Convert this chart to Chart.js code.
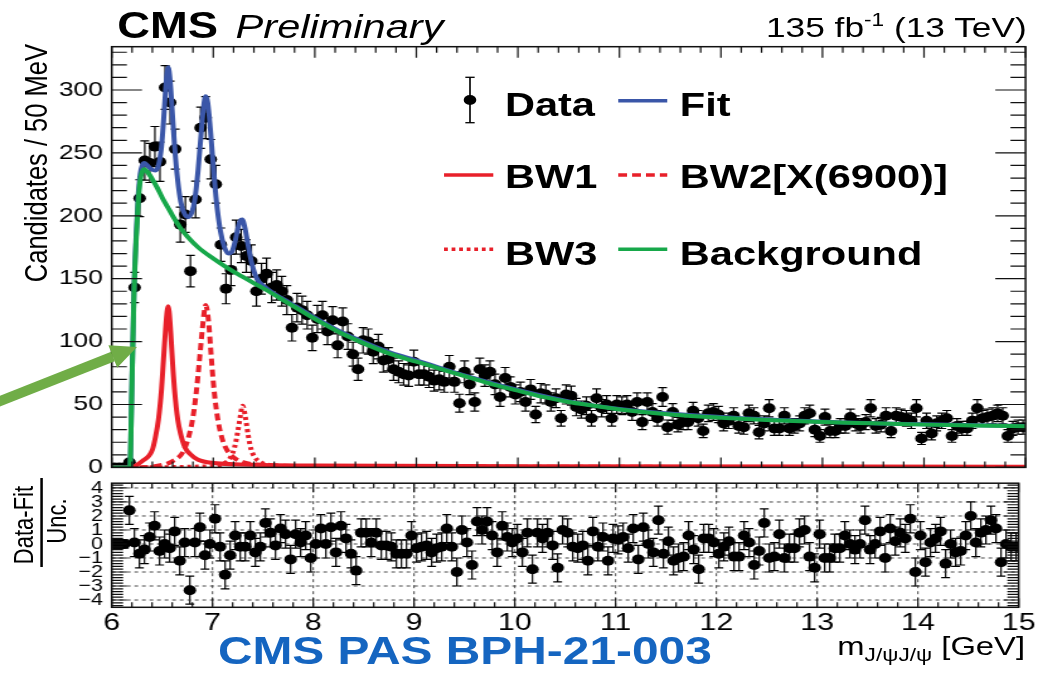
<!DOCTYPE html>
<html>
<head>
<meta charset="utf-8">
<script src="https://cdn.jsdelivr.net/npm/chart.js@4.4.1/dist/chart.umd.min.js"></script>
<style>
body { margin:0; background:#fff; width:1038px; height:673px; overflow:hidden; font-family:"Liberation Sans", Arial, sans-serif; }
#wrap { position:absolute; left:0; top:0; width:824px; height:673px; transform:scaleX(1.25971); transform-origin:0 0; }
#wrap canvas { position:absolute; left:0; }
.t { position:absolute; line-height:1; white-space:nowrap; color:#000; }
.leg { font-weight:bold; font-size:33px; }
</style>
</head>
<body>
<div id="wrap">
  <canvas id="mainChart" width="824" height="487" style="top:0"></canvas>
  <canvas id="pullChart" width="824" height="207" style="top:466px"></canvas>

  <div class="t" style="left:93px;top:7.5px;font-size:36px;font-weight:bold">CMS</div>
  <div class="t" style="left:187px;top:10px;font-size:33px;font-style:italic">Preliminary</div>
  <div class="t" style="right:9px;top:14px;font-size:28px">135 fb<span style="font-size:18px;position:relative;top:-11px">-1</span> (13 TeV)</div>

  <div class="t" style="left:16px;top:444px;width:400px;text-align:right;font-size:25.5px;transform-origin:0 0;transform:rotate(-90deg)">Candidates / 50 MeV</div>

  <div class="t" style="left:18.5px;top:525px;font-size:22px;transform:translate(-50%,-50%) rotate(-90deg)">Data-Fit</div>
  <div style="position:absolute;left:32.3px;top:478px;width:2px;height:89px;background:#000"></div>
  <div class="t" style="left:44.5px;top:521px;font-size:22px;transform:translate(-50%,-50%) rotate(-90deg)">Unc.</div>

  <div class="t leg" style="left:400.8px;top:87.8px">Data</div>
  <div class="t leg" style="left:539.7px;top:87.8px">Fit</div>
  <div class="t leg" style="left:400.8px;top:160.4px">BW1</div>
  <div class="t leg" style="left:539.7px;top:160.4px">BW2[X(6900)]</div>
  <div class="t leg" style="left:400.8px;top:237.1px">BW3</div>
  <div class="t leg" style="left:539.7px;top:237.1px">Background</div>

  <svg width="824" height="300" style="position:absolute;left:0;top:0">
    <line x1="373.1" y1="77.3" x2="373.1" y2="122.7" stroke="#000" stroke-width="1.3"/>
    <line x1="369.4" y1="77.3" x2="376.8" y2="77.3" stroke="#000" stroke-width="1.3"/>
    <line x1="369.4" y1="122.7" x2="376.8" y2="122.7" stroke="#000" stroke-width="1.3"/>
    <circle cx="373.1" cy="100" r="5" fill="#000"/>
    <line x1="490.8" y1="100.7" x2="529.7" y2="100.7" stroke="#3a56a8" stroke-width="3.5"/>
    <line x1="352.5" y1="175" x2="391.6" y2="175" stroke="#e8202a" stroke-width="3.5"/>
    <line x1="490.8" y1="175" x2="529.7" y2="175" stroke="#e8202a" stroke-width="3.5" stroke-dasharray="7 4"/>
    <line x1="352.5" y1="249.3" x2="391.6" y2="249.3" stroke="#e8202a" stroke-width="3.5" stroke-dasharray="3 3"/>
    <line x1="490.8" y1="249.3" x2="529.7" y2="249.3" stroke="#17a84a" stroke-width="3.5"/>
  </svg>

  <div class="t" style="left:173px;top:632px;font-size:38px;font-weight:bold;color:#1565c0">CMS PAS BPH-21-003</div>
  <div class="t" style="right:10.3px;top:633px;font-size:26px">m<span style="font-size:18px;position:relative;top:6px">J/ψJ/ψ</span> [GeV]</div>
</div>

<svg width="1038" height="673" style="position:absolute;left:0;top:0">
  <line x1="-5" y1="403" x2="113" y2="356.5" stroke="#70ad47" stroke-width="10"/>
  <polygon points="137,347 117.2,367.7 108.4,345.3" fill="#70ad47"/>
</svg>

<script>
// binning of the mass spectrum
const binLow = 6.0;
const binWidth = 0.05;

// candidates per 50 MeV bin, 6.0 - 15.0 GeV
const counts = [
  0, 0, 0, 4, 143, 214, 244, 242, 255, 243,
  302, 290, 253, 193, 201, 156, 213, 270, 278, 245,
  225, 177, 142, 157, 183, 176, 168, 164, 140, 150,
  154, 143, 145, 140, 133, 111, 127, 125, 121, 103,
  118, 121, 108, 117, 97, 116, 104, 90, 78, 101,
  100, 92, 96, 85, 86, 78, 76, 74, 73, 84,
  74, 74, 72, 69, 70, 68, 80, 68, 51, 76,
  66, 52, 78, 73, 76, 66, 56, 71, 64, 58,
  60, 52, 62, 42, 59, 58, 52, 55, 39, 58,
  57, 48, 46, 49, 39, 55, 47, 50, 39, 50,
  49, 50, 44, 52, 36, 52, 44, 39, 56, 32,
  44, 34, 36, 36, 45, 39, 29, 43, 44, 42,
  35, 37, 41, 33, 32, 43, 41, 28, 35, 47,
  31, 31, 41, 31, 33, 35, 41, 43, 30, 25,
  40, 29, 29, 33, 33, 40, 35, 33, 36, 47,
  33, 34, 41, 29, 41, 40, 39, 37, 47, 23,
  37, 27, 35, 37, 39, 25, 33, 31, 31, 37,
  47, 39, 40, 41, 43, 41, 25, 31, 32, 32
];

// (data - fit) / uncertainty per bin
const pulls = [
  0, 0, 0, 2.4, 0.1, -0.7, -0.4, 0.5, 1.3, -0.5,
  0, -0.3, 0.9, -1.2, 0.1, -3.3, 0.1, 1.2, -0.8, 0,
  1.8, -0.2, -2.2, -0.8, 0.6, -0.2, -0.2, 0.6, -0.6, -0.2,
  1.5, 0.8, -0.1, 1.1, 0.7, -1.1, 0.7, 0.1, 0.6, -1.0,
  0, 1.1, 0, 1.2, -0.6, 1.3, 0.4, -0.7, -1.9, 0.8,
  0.8, 0.1, 0.8, -0.1, -0.1, -0.2, -0.7, -0.7, -0.7, 0.6,
  -0.3, -0.2, -0.1, -0.6, -0.3, -0.2, 1.1, -0.2, -2.0, 1.0,
  0.1, -1.5, 1.6, 1.0, 1.6, 0.6, -0.6, 1.3, 0.5, 0.1,
  0.4, -0.6, 0.8, -1.8, 0.8, 0.4, 0.8, -0.1, -1.7, 1.0,
  0.8, -0.2, -0.3, -0.1, -1.2, 0.9, -0.2, 0.5, -1.2, 0.4,
  0.3, 0.5, -0.3, 1.1, -1.1, 1.2, 0, -0.6, 1.7, -0.7,
  0.2, -1.2, -1.0, -0.9, 0.6, -0.4, -1.8, 0.4, 0.4, 0.1,
  -0.7, -0.2, 0.2, -0.9, -0.9, 0.6, 0.1, -1.5, -0.5, 1.5,
  -1.0, -0.9, 0.7, -1.0, -0.3, -0.3, 0.8, 1.0, -0.9, -1.7,
  0.7, -1.0, -1.0, -0.3, -0.3, 0.6, 0, -0.4, 0, 1.7,
  -0.4, 0, 0.9, -1.0, 1.1, 0.2, 0.8, 0.4, 1.8, -2.0,
  0.6, -1.3, 0.1, 0.4, 0.9, -1.4, 0, -0.6, -0.5, 0.6,
  2.0, 0.1, 0.8, 1.0, 1.7, 1.1, -1.3, 0, -0.2, -0.2
];

// fit components (mass in GeV, candidates / 50 MeV)
const bgMass = [6.00, 6.17, 6.18, 6.19, 6.20, 6.21, 6.22, 6.24, 6.26, 6.28,
  6.30, 6.32, 6.35, 6.40, 6.45, 6.50, 6.55, 6.60, 6.67, 6.75,
  6.85, 7.00, 7.15, 7.30, 7.50, 7.75, 8.00, 8.25, 8.50, 8.75,
  9.00, 9.25, 9.50, 9.75, 10.00, 10.25, 10.50, 10.75, 11.00, 11.50,
  12.00, 12.50, 13.00, 13.50, 14.00, 14.50, 15.00];
const bgVals = [0, 0, 0, 30, 70, 105, 140, 180, 210, 228,
  235, 237, 235, 229, 222, 214, 207, 200, 191, 183,
  175, 166, 158, 151, 142, 130, 118, 107, 98, 90,
  84, 78, 72, 66, 61, 56, 52, 49, 46, 42,
  39.5, 37.5, 36, 35, 34, 33.3, 32.8];

const fitMass = [6.00, 6.17, 6.18, 6.19, 6.20, 6.21, 6.22, 6.24, 6.26, 6.28,
  6.30, 6.32, 6.35, 6.39, 6.43, 6.46, 6.49, 6.51, 6.53, 6.545,
  6.555, 6.565, 6.58, 6.60, 6.62, 6.65, 6.68, 6.72, 6.755, 6.79,
  6.82, 6.85, 6.88, 6.905, 6.925, 6.945, 6.97, 7.00, 7.03, 7.07,
  7.11, 7.15, 7.18, 7.21, 7.24, 7.265, 7.285, 7.31, 7.34, 7.38,
  7.43, 7.50, 7.60, 7.75, 8.00, 8.25, 8.50, 8.75, 9.00, 9.50,
  10.00, 10.50, 11.00, 12.00, 13.00, 14.00, 15.00];
const fitVals = [0, 0, 0, 31, 72, 108, 143, 184, 215, 233,
  240, 242, 240, 237, 236, 240, 255, 275, 300, 314,
  318, 315, 302, 278, 254, 228, 211, 201, 199, 203,
  214, 236, 265, 287, 295, 290, 270, 240, 212, 188,
  175, 170, 171, 178, 189, 196, 197, 191, 178, 162,
  150, 144, 138, 131, 119, 108, 99, 91, 85, 72.5,
  61.5, 52.5, 46.5, 40, 36.3, 34.2, 33];

const bw1Mass = [6.00, 6.18, 6.30, 6.40, 6.43, 6.46, 6.49, 6.51, 6.53, 6.545,
  6.555, 6.565, 6.58, 6.60, 6.62, 6.65, 6.68, 6.72, 6.78, 6.85,
  7.00, 7.50, 8.00, 10.00, 15.00];
const bw1Vals = [0, 0, 5, 14, 24, 38, 62, 86, 110, 124,
  128, 124, 108, 82, 60, 38, 26, 16, 10, 6,
  3.5, 2, 1.5, 1, 0.5];

const bw2Mass = [6.00, 6.18, 6.50, 6.60, 6.70, 6.76, 6.80, 6.83, 6.86, 6.89,
  6.91, 6.925, 6.94, 6.96, 6.98, 7.00, 7.03, 7.07, 7.12, 7.20,
  7.30, 7.50, 8.00, 15.00];
const bw2Vals = [0, 0, 2, 5, 12, 25, 40, 58, 82, 108,
  123, 129, 125, 110, 88, 68, 46, 28, 16, 8,
  4, 2, 1, 0.3];

const bw3Mass = [6.00, 7.00, 7.10, 7.17, 7.21, 7.24, 7.265, 7.28, 7.29, 7.30,
  7.32, 7.345, 7.37, 7.41, 7.47, 7.60, 8.00, 15.00];
const bw3Vals = [0, 1, 3, 8, 16, 28, 40, 47, 49, 47,
  38, 25, 15, 8, 4, 1.5, 0.5, 0];

// tick labels
const massTicks = [6, 7, 8, 9, 10, 11, 12, 13, 14, 15];
const countTicks = [0, 50, 100, 150, 200, 250, 300];
const pullTicks = [-4, -3, -2, -1, 0, 1, 2, 3, 4];

const colBlue = '#3a56a8';
const colRed = '#e8202a';
const colGreen = '#17a84a';

Chart.defaults.font.family = '"Liberation Sans", Arial, sans-serif';
Chart.defaults.color = '#000';

function curve(ms, vs) {
    return ms.map((m, i) => ({ x: m, y: vs[i] }));
}

function stepList(min, max, step) {
    let out = [];
    let n = Math.round((max - min) / step);
    for (let i = 0; i <= n; i++) out.push(min + i * step);
    return out;
}

// ROOT-like frame: box, inner ticks on all sides, optional dashed grid
const rootFrame = {
    id: 'rootFrame',
    beforeDatasetsDraw(chart, args, o) {
        if (!o.dashed) return;
        const { ctx, chartArea: a } = chart;
        const x = chart.scales.x, y = chart.scales.y;
        ctx.save();
        ctx.strokeStyle = '#333';
        ctx.lineWidth = 0.9;
        ctx.setLineDash([3, 3]);
        ctx.beginPath();
        o.xMajor.forEach(v => {
            let px = x.getPixelForValue(v);
            if (px <= a.left + 1 || px >= a.right - 1) return;
            ctx.moveTo(px, a.top);
            ctx.lineTo(px, a.bottom);
        });
        o.yMajor.forEach(v => {
            let py = y.getPixelForValue(v);
            ctx.moveTo(a.left, py);
            ctx.lineTo(a.right, py);
        });
        ctx.stroke();
        ctx.restore();
    },
    afterDatasetsDraw(chart, args, o) {
        const { ctx, chartArea: a } = chart;
        const x = chart.scales.x, y = chart.scales.y;
        const isMajor = (list, v) => list.some(m => Math.abs(m - v) < 1e-6);
        ctx.save();
        ctx.strokeStyle = '#111';
        ctx.lineWidth = 1.2;
        ctx.beginPath();
        stepList(x.min, x.max, o.xMinor).forEach(v => {
            let px = x.getPixelForValue(v);
            let big = isMajor(o.xMajor, v);
            let lt = big ? o.xLen[0] : o.xLen[1];
            let lb = big ? o.xLen[2] : o.xLen[3];
            ctx.moveTo(px, a.top); ctx.lineTo(px, a.top + lt);
            ctx.moveTo(px, a.bottom); ctx.lineTo(px, a.bottom - lb);
        });
        stepList(o.yFrom, o.yTo, o.yMinor).forEach(v => {
            let py = y.getPixelForValue(v);
            if (py < a.top - 0.5 || py > a.bottom + 0.5) return;
            let len = isMajor(o.yMajor, v) ? o.yLen[0] : o.yLen[1];
            ctx.moveTo(a.left, py); ctx.lineTo(a.left + len, py);
            ctx.moveTo(a.right, py); ctx.lineTo(a.right - len, py);
        });
        ctx.stroke();
        ctx.lineWidth = 1.5;
        ctx.strokeRect(a.left, a.top, a.right - a.left, a.bottom - a.top);
        ctx.restore();
    }
};

// vertical error bars with small caps, drawn under the markers
const errorBars = {
    id: 'errorBars',
    beforeDatasetsDraw(chart) {
        const { ctx, chartArea: a } = chart;
        ctx.save();
        ctx.beginPath();
        ctx.rect(a.left, a.top, a.right - a.left, a.bottom - a.top);
        ctx.clip();
        ctx.strokeStyle = '#000';
        ctx.lineWidth = 1.2;
        chart.data.datasets.forEach((ds, i) => {
            if (!ds.errors) return;
            const meta = chart.getDatasetMeta(i);
            const ys = chart.scales[meta.yAxisID];
            meta.data.forEach((pt, j) => {
                let v = ds.data[j].y, e = ds.errors[j];
                let top = ys.getPixelForValue(v + e);
                let bot = ys.getPixelForValue(v - e);
                ctx.beginPath();
                ctx.moveTo(pt.x, top); ctx.lineTo(pt.x, bot);
                ctx.moveTo(pt.x - 3.5, top); ctx.lineTo(pt.x + 3.5, top);
                ctx.moveTo(pt.x - 3.5, bot); ctx.lineTo(pt.x + 3.5, bot);
                ctx.stroke();
            });
        });
        ctx.restore();
    }
};

const binCenters = counts.map((c, i) => binLow + binWidth * (i + 0.5));
const countErr = counts.map(c => c > 0 ? Math.sqrt(c) : 1.15);
const pullErr = counts.map(c => c > 0 ? 1 : 0.3);

function lineSet(label, ms, vs, color, dash, order) {
    return {
        label: label,
        data: curve(ms, vs),
        showLine: true,
        borderColor: color,
        borderWidth: 4,
        borderDash: dash,
        pointRadius: 0,
        cubicInterpolationMode: 'monotone',
        order: order
    };
}

let mainChart = new Chart(document.getElementById('mainChart'), {
    type: 'scatter',
    data: {
        datasets: [
            {
                label: 'Data',
                data: counts.map((c, i) => ({ x: binCenters[i], y: c })),
                errors: countErr,
                pointRadius: 5,
                pointBackgroundColor: '#000',
                pointBorderWidth: 0,
                order: 10
            },
            lineSet('BW1', bw1Mass, bw1Vals, colRed, [], 6),
            lineSet('BW2', bw2Mass, bw2Vals, colRed, [7, 4], 5),
            lineSet('BW3', bw3Mass, bw3Vals, colRed, [3, 3], 4),
            lineSet('Fit', fitMass, fitVals, colBlue, [], 3),
            lineSet('Background', bgMass, bgVals, colGreen, [], 2)
        ]
    },
    options: {
        responsive: false,
        animation: false,
        events: [],
        devicePixelRatio: 1,
        layout: { padding: { left: 0, right: 9.9, top: 46.7, bottom: 12 } },
        scales: {
            x: { type: 'linear', min: 6, max: 15, display: false },
            y: {
                type: 'linear', min: 0, max: 334.4,
                grid: { display: false, drawTicks: false },
                border: { display: false },
                ticks: { padding: 7, font: { size: 21 }, color: '#000', autoSkip: false },
                afterBuildTicks: s => { s.ticks = countTicks.map(v => ({ value: v })); },
                afterFit: s => { s.width = 88.7; }
            }
        },
        plugins: {
            legend: { display: false },
            tooltip: { enabled: false },
            rootFrame: {
                xMajor: massTicks, xMinor: 0.2, xLen: [11, 6, 10, 6],
                yMajor: countTicks, yMinor: 10, yFrom: 0, yTo: 330, yLen: [24, 12]
            }
        }
    },
    plugins: [errorBars, rootFrame]
});

let pullChart = new Chart(document.getElementById('pullChart'), {
    type: 'scatter',
    data: {
        datasets: [{
            label: 'Pull',
            data: pulls.map((p, i) => ({ x: binCenters[i], y: p })),
            errors: pullErr,
            pointRadius: 5,
            pointBackgroundColor: '#000',
            pointBorderWidth: 0
        }]
    },
    options: {
        responsive: false,
        animation: false,
        events: [],
        devicePixelRatio: 1,
        layout: { padding: { left: 0, right: 9.9, top: 5.5, bottom: 0 } },
        scales: {
            x: {
                type: 'linear', min: 6, max: 15,
                grid: { display: false, drawTicks: false },
                border: { display: false },
                ticks: { padding: 2, font: { size: 24 }, color: '#000', autoSkip: false, maxRotation: 0 },
                afterBuildTicks: s => { s.ticks = massTicks.map(v => ({ value: v })); },
                afterFit: s => { s.height = 65.7; }
            },
            y: {
                type: 'linear', min: -4.52, max: 4.34,
                grid: { display: false, drawTicks: false },
                border: { display: false },
                ticks: {
                    padding: 7, font: { size: 17 }, color: '#000', autoSkip: false,
                    callback: v => String(v).replace('-', '\u2212')
                },
                afterBuildTicks: s => { s.ticks = pullTicks.map(v => ({ value: v })); },
                afterFit: s => { s.width = 88.7; }
            }
        },
        plugins: {
            legend: { display: false },
            tooltip: { enabled: false },
            rootFrame: {
                dashed: true,
                xMajor: massTicks, xMinor: 0.2, xLen: [9, 5, 9, 5],
                yMajor: pullTicks, yMinor: 0.2, yFrom: -4.4, yTo: 4.2, yLen: [12, 9]
            }
        }
    },
    plugins: [errorBars, rootFrame]
});
</script>
</body>
</html>
